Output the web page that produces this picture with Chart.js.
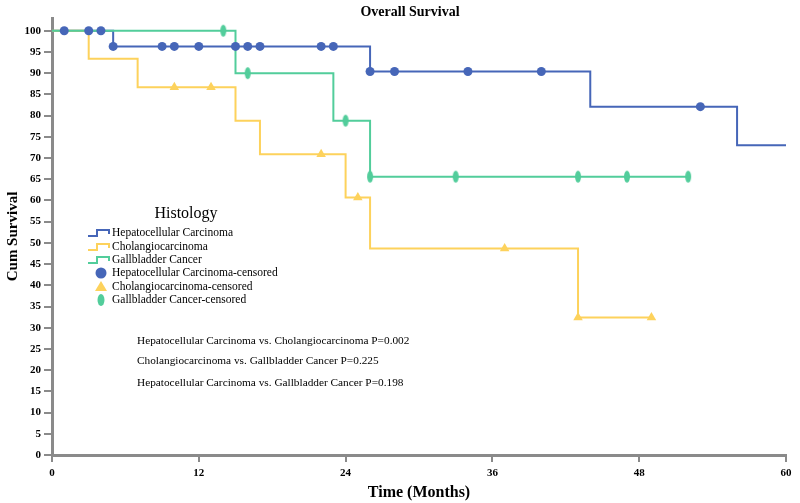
<!DOCTYPE html>
<html>

<head>
  <title>Overall Survival</title>
  <script src="https://cdn.jsdelivr.net/npm/chart.js"></script>
</head>

<body>
  <canvas id="kmChart" width="800" height="503"></canvas>
</body>

<style>
  html,
  body {
    margin: 0;
    padding: 0;
    background: #fff;
  }

  canvas {
    display: block;
  }
</style>

<script>
  // Kaplan-Meier steps (time in months, cumulative survival %)
  const hccTime = [0, 5, 26, 44, 56, 60];
  const hccSurv = [100, 96.3, 90.4, 82.1, 73.0, 73.0];
  const hccCensored = [1, 3, 4, 5, 9, 10, 12, 15, 16, 17, 22, 23, 26, 28, 34, 40, 53];

  const ccaTime = [0, 3, 7, 15, 17, 24, 26, 43, 49];
  const ccaSurv = [100, 93.4, 86.7, 78.8, 70.9, 60.7, 48.7, 32.4, 32.4];
  const ccaCensored = [10, 13, 22, 25, 37, 43, 49];

  const gbcTime = [0, 15, 23, 26, 52];
  const gbcSurv = [100, 90.0, 78.8, 65.6, 65.6];
  const gbcCensored = [14, 16, 24, 26, 33, 43, 47, 52];

  const groupNames = ['Hepatocellular Carcinoma', 'Cholangiocarcinoma', 'Gallbladder Cancer'];
  const pValueLines = [
    'Hepatocellular Carcinoma vs. Cholangiocarcinoma P=0.002',
    'Cholangiocarcinoma vs. Gallbladder Cancer P=0.225',
    'Hepatocellular Carcinoma vs. Gallbladder Cancer P=0.198'
  ];
  const xTicks = [0, 12, 24, 36, 48, 60];

  const BLUE = '#4666b8';
  const YELLOW = '#fdd25c';
  const GREEN = '#52cd9b';
  const AXIS = '#8a8a8a';
  const SERIF = "'Liberation Serif', 'Times New Roman', serif";

  // survival value of a step curve at time t
  function survAt(times, surv, t) {
    let v = surv[0];
    for (let i = 0; i < times.length; i++) {
      if (times[i] <= t) v = surv[i];
    }
    return v;
  }

  function stepPoints(times, surv) {
    return times.map((t, i) => ({ x: t, y: surv[i] }));
  }

  function censorPoints(times, surv, cens) {
    return cens.map(t => ({ x: t, y: survAt(times, surv, t) }));
  }

  // vertical ellipse marker for the gallbladder censor marks
  function ellipseMarker(w, h) {
    const c = document.createElement('canvas');
    c.width = w + 2;
    c.height = h + 2;
    const g = c.getContext('2d');
    g.fillStyle = GREEN;
    g.beginPath();
    g.ellipse(c.width / 2, c.height / 2, w / 2, h / 2, 0, 0, Math.PI * 2);
    g.fill();
    return c;
  }
  const greenEllipse = ellipseMarker(6, 12);

  function lineSet(label, times, surv, color, order) {
    return {
      type: 'line',
      label: label,
      data: stepPoints(times, surv),
      borderColor: color,
      borderWidth: 2,
      stepped: true,
      pointRadius: 0,
      fill: false,
      order: order
    };
  }

  function censorSet(label, times, surv, cens, color, style, radius) {
    return {
      type: 'scatter',
      label: label + '-censored',
      data: censorPoints(times, surv, cens),
      backgroundColor: color,
      borderColor: color,
      borderWidth: 0,
      pointStyle: style,
      pointRadius: radius,
      showLine: false,
      order: 0
    };
  }

  const datasets = [
    lineSet(groupNames[0], hccTime, hccSurv, BLUE, 3),
    lineSet(groupNames[1], ccaTime, ccaSurv, YELLOW, 2),
    lineSet(groupNames[2], gbcTime, gbcSurv, GREEN, 1),
    censorSet(groupNames[0], hccTime, hccSurv, hccCensored, BLUE, 'circle', 4.5),
    censorSet(groupNames[1], ccaTime, ccaSurv, ccaCensored, YELLOW, 'triangle', 5.5),
    censorSet(groupNames[2], gbcTime, gbcSurv, gbcCensored, GREEN, greenEllipse, 6)
  ];

  // title, legend box and p-value notes
  const extrasPlugin = {
    id: 'extras',
    afterDraw(chart) {
      const ctx = chart.ctx;
      ctx.save();
      ctx.fillStyle = '#000';
      ctx.textBaseline = 'middle';

      ctx.font = 'bold 14px ' + SERIF;
      ctx.textAlign = 'center';
      ctx.fillText('Overall Survival', 410, 12);

      ctx.font = '16px ' + SERIF;
      ctx.fillText('Histology', 186, 214);

      ctx.textAlign = 'left';
      ctx.font = '11.5px ' + SERIF;
      const lineColors = [BLUE, YELLOW, GREEN];
      const rowY = [233, 247, 260, 273, 287, 300];

      // step-shaped line icons
      lineColors.forEach((col, i) => {
        const y = rowY[i];
        ctx.strokeStyle = col;
        ctx.lineWidth = 2;
        ctx.beginPath();
        ctx.moveTo(88, y + 3);
        ctx.lineTo(97, y + 3);
        ctx.lineTo(97, y - 3);
        ctx.lineTo(109, y - 3);
        ctx.lineTo(109, y + 1);
        ctx.stroke();
        ctx.fillStyle = '#000';
        ctx.fillText(groupNames[i], 112, y);
      });

      // censor marker icons
      const cx = 101;
      let y = rowY[3];
      ctx.fillStyle = BLUE;
      ctx.beginPath();
      ctx.arc(cx, y, 5.5, 0, Math.PI * 2);
      ctx.fill();

      y = rowY[4];
      ctx.fillStyle = YELLOW;
      ctx.beginPath();
      ctx.moveTo(cx, y - 6);
      ctx.lineTo(cx + 6, y + 4);
      ctx.lineTo(cx - 6, y + 4);
      ctx.closePath();
      ctx.fill();

      y = rowY[5];
      ctx.fillStyle = GREEN;
      ctx.beginPath();
      ctx.ellipse(cx, y, 3.5, 6, 0, 0, Math.PI * 2);
      ctx.fill();

      ctx.fillStyle = '#000';
      groupNames.forEach((name, i) => {
        ctx.fillText(name + '-censored', 112, rowY[3 + i]);
      });

      ctx.font = '11.3px ' + SERIF;
      const noteY = [341, 361, 383];
      pValueLines.forEach((txt, i) => ctx.fillText(txt, 137, noteY[i]));

      ctx.restore();
    }
  };

  const ctx = document.getElementById('kmChart').getContext('2d');

  const kmChart = new Chart(ctx, {
    data: { datasets: datasets },
    plugins: [extrasPlugin],
    options: {
      responsive: false,
      animation: false,
      layout: {
        padding: { top: 18, right: 14, left: 0, bottom: 0 }
      },
      plugins: {
        legend: { display: false },
        tooltip: { enabled: false },
        title: { display: false }
      },
      scales: {
        x: {
          type: 'linear',
          min: 0,
          max: 60,
          afterBuildTicks: axis => {
            axis.ticks = xTicks.map(v => ({ value: v }));
          },
          afterFit: axis => {
            axis.height = 48;
          },
          border: { color: AXIS, width: 3 },
          grid: {
            drawOnChartArea: false,
            drawTicks: true,
            tickLength: 7,
            color: AXIS,
            lineWidth: 2
          },
          ticks: {
            color: '#000',
            padding: 5,
            maxRotation: 0,
            font: { family: SERIF, size: 11, weight: 'bold' }
          },
          title: {
            display: true,
            text: 'Time (Months)',
            color: '#000',
            padding: { top: 0, bottom: 1 },
            font: { family: SERIF, size: 16, weight: 'bold' }
          }
        },
        y: {
          type: 'linear',
          min: 0,
          max: 103,
          afterBuildTicks: axis => {
            const t = [];
            for (let v = 0; v <= 100; v += 5) t.push({ value: v });
            axis.ticks = t;
          },
          afterFit: axis => {
            axis.width = 52;
          },
          border: { color: AXIS, width: 3 },
          grid: {
            drawOnChartArea: false,
            drawTicks: true,
            tickLength: 8,
            color: AXIS,
            lineWidth: 2
          },
          ticks: {
            color: '#000',
            padding: 3,
            font: { family: SERIF, size: 11, weight: 'bold' }
          },
          title: {
            display: true,
            text: 'Cum Survival',
            color: '#000',
            padding: { top: 4, bottom: 4 },
            font: { family: SERIF, size: 15, weight: 'bold' }
          }
        }
      }
    }
  });
</script>

</html>
